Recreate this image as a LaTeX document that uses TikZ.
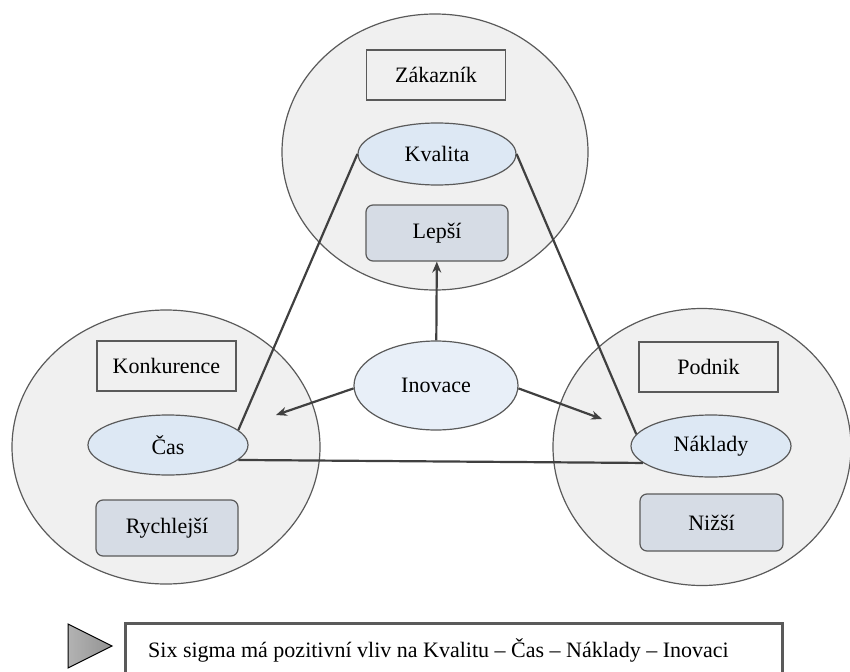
\documentclass[tikz,border=0pt]{standalone}
\usepackage{fontspec}
\setmainfont{Liberation Serif}
\usetikzlibrary{arrows.meta,shapes.geometric}
\definecolor{circfill}{HTML}{F0F0F0}
\definecolor{ellfill}{HTML}{DDE8F4}
\definecolor{inofill}{HTML}{E8EFF8}
\definecolor{boxfill}{HTML}{D6DCE5}
\definecolor{edgegray}{HTML}{5A5A5A}
\definecolor{linegray}{HTML}{404040}

\begin{document}
\begin{tikzpicture}[x=1pt, y=-1pt,
  every node/.style={font=\fontsize{22}{26}\selectfont, inner sep=0pt},
  zone/.style={ellipse, draw=edgegray, line width=1.2pt, fill=circfill, minimum width=306, minimum height=276},
  oval/.style={ellipse, draw=edgegray, line width=1.2pt, fill=ellfill, minimum width=160, minimum height=62},
  label/.style={draw=edgegray, line width=1.2pt, minimum width=139, minimum height=50},
  goal/.style={draw=edgegray, line width=1.2pt, fill=boxfill, rounded corners=7pt, minimum width=142, minimum height=56},
  link/.style={draw=linegray, line width=2.2pt},
  arr/.style={link, -{Stealth[length=11pt, width=9pt]}}]
\useasboundingbox (0,0) rectangle (850,671);
% three areas
\node[zone] (top) at (435,152) {};
\node[zone, minimum width=308, minimum height=274] (lft) at (166,447) {};
\node[zone, minimum width=298, minimum height=277] (rgt) at (702,447) {};
% customer
\node[label] (zak) at (436,75) {Zákazník};
\node[oval, minimum width=158] (kv) at (437,154) {Kvalita};
\node[goal] (lep) at (437,233) {Lepší};
% competition
\node[label] (kon) at (166.5,366) {Konkurence};
\node[oval, minimum height=60] (cas) at (168,445) {Čas};
\node[goal] (ryc) at (167,528) {Rychlejší};
% company
\node[label] (pod) at (708.5,367) {Podnik};
\node[oval] (nak) at (711,446) {Náklady};
\node[goal, minimum width=143, minimum height=57] (niz) at (711.5,522.5) {Nižší};
% innovation
\node[oval, fill=inofill, minimum width=164, minimum height=89] (ino) at (436,385.5) {Inovace};
\coordinate (tl) at (276,415);
\coordinate (tr) at (602,419);
% triangle links
\draw[link] (kv.west) -- (cas.12);
\draw[link] (kv.east) -- (nak.171);
\draw[link] (cas.-12) -- (nak.194);
% arrows from innovation
\draw[arr] (ino) -- (lep);
\draw[arr] (ino.182) -- (tl);
\draw[arr] (ino.-2) -- (tr);
% note
\shade[draw=black, line width=1pt, left color=gray!60, right color=gray!85] (68,624) -- (112,646) -- (68,668) -- cycle;
\node[draw=edgegray, line width=3pt, minimum width=657, minimum height=62, anchor=north west] (note) at (124,622) {};
\node[anchor=west] (txt) at (148,650) {Six sigma má pozitivní vliv na Kvalitu – Čas – Náklady – Inovaci};
\end{tikzpicture}
\end{document}
